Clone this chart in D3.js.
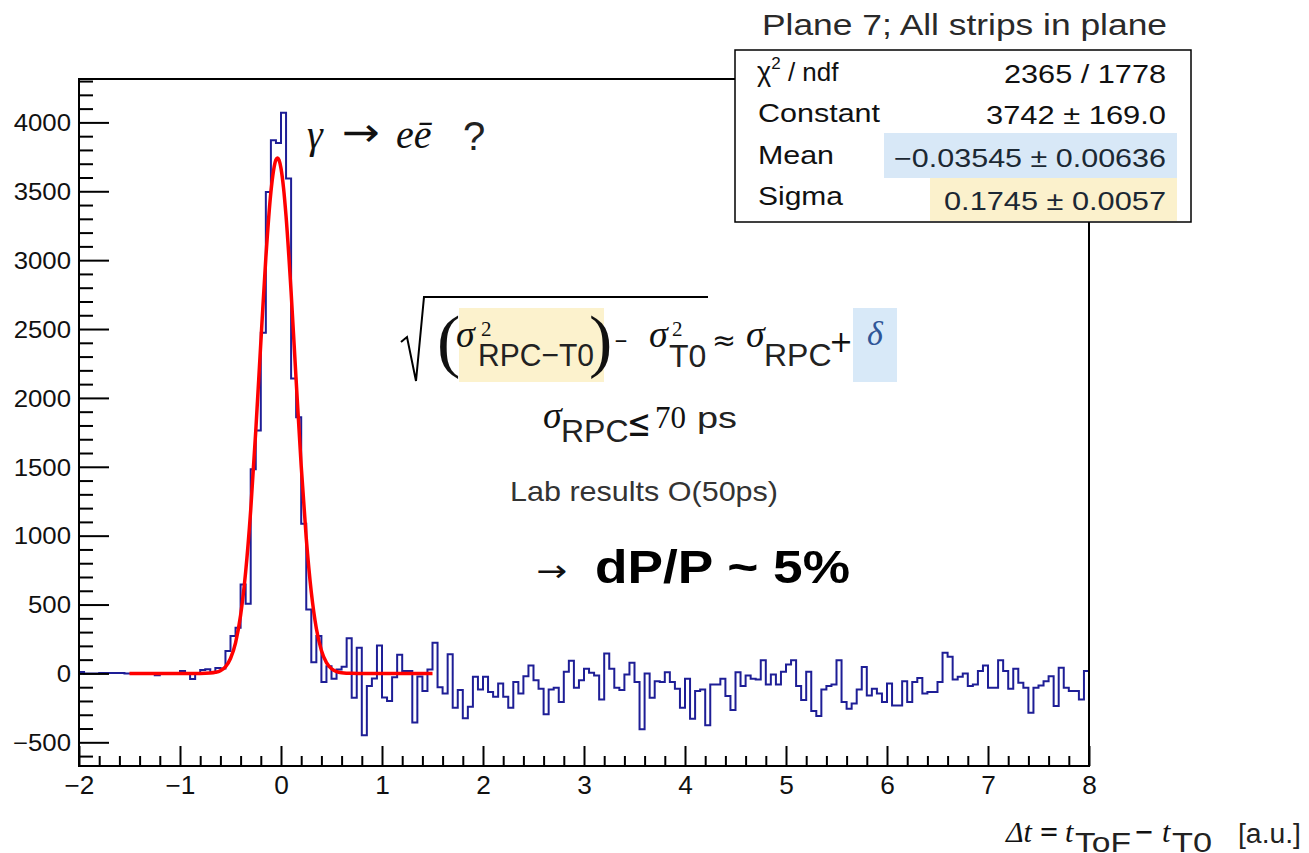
<!DOCTYPE html>
<html>
<head>
<meta charset="utf-8">
<script src="https://cdn.jsdelivr.net/npm/d3@7"></script>
<style>
  body { margin: 0; background: #fff; }
  text { font-family: "Liberation Sans", Arial, Helvetica, sans-serif; fill: #111; }
</style>
</head>
<body>
<div id="chart"></div>
<script>
// histogram binning: 200 bins of 0.05 from -2 to 8
let bin_start = -2;
let bin_width = 0.05;

// bin contents
// -2.00 .. -0.60
let counts_left = [10, 0, 0, 0, 3, 3, 3, 3, 3, 0,
  0, 0, 0, 0, 0, -14, 2, 3, 3, 3,
  17, 3, -40, 3, 24, 31, 5, 40, 36];
// -0.55 .. 0.25
let counts_peak = [162, 271, 331, 645, 505, 1483, 1763, 2473, 3495, 3870,
  3850, 4070, 3592, 2140, 1860, 1087, 464];
// 0.30 .. 0.95
let counts_0 = [82, 271, -63, 53, -39, 29, 48, 256, -176, 186, -449, -92, -36, 203];
// 1.00 .. 1.95
let counts_1 = [-174, -200, -27, 135, 17, 17, -357, -22, -128, 29,
  222, -100, -145, 140, -249, -121, -326, -242, -24, -116];
// 2.00 .. 2.95
let counts_2 = [-24, -135, -169, -73, -169, -249, -63, -145, -20, 58,
  -49, -111, -297, -116, -104, -208, 12, 92, -104, -49];
// 3.00 .. 3.95
let counts_3 = [34, 5, -15, -189, 145, 34, -104, -121, -7, 77,
  -63, -406, 0, -177, -56, -63, 9, -63, -111, -249];
// 4.00 .. 4.95
let counts_4 = [-39, -329, -128, -116, -377, -80, -80, -39, -164, -266,
  9, -92, -15, -39, -44, 96, -80, -7, -80, 12];
// 5.00 .. 5.95
let counts_5 = [65, 96, -92, -193, 12, -273, -309, -116, -92, -80,
  96, -208, -256, -218, -116, 46, -160, -111, -145, -208];
// 6.00 .. 6.95
let counts_6 = [-73, -232, -232, -56, -208, -63, -34, -145, -135, -135,
  -63, 150, 121, -44, -24, 0, -92, -80, 17, 58];
// 7.00 .. 7.95
let counts_7 = [-104, -104, 96, 17, -111, 34, -68, -104, -285, -104,
  -87, -56, -20, -237, 41, -104, -128, -128, -189, 17];

// gaussian fit curve
let fit_x = [-1.5, -1.0, -0.8, -0.7, -0.65, -0.6, -0.55, -0.5, -0.45, -0.4, -0.35, -0.3,
  -0.25, -0.2, -0.15, -0.1, -0.05, -0.035, -0.02, 0, 0.025, 0.05, 0.1, 0.15, 0.2,
  0.25, 0.3, 0.35, 0.4, 0.45, 0.5, 0.55, 0.6, 0.7, 0.8, 1.0, 1.5];
let fit_y = [0, 0, 0, 3, 8, 20, 48, 108, 222, 422, 737, 1186,
  1759, 2399, 3018, 3495, 3729, 3742, 3728, 3666, 3525, 3319, 2769, 2127, 1506,
  982, 590, 326, 166, 78, 34, 13, 5, 0.5, 0, 0, 0];

// axis ticks
let x_major = d3.range(-2, 9, 1);
let x_minor = d3.range(-2, 8.01, 0.2).filter(v => Math.abs(v - Math.round(v)) > 1e-6);
let y_major = d3.range(-500, 4001, 500);
let y_minor = d3.range(-600, 4301, 100).filter(v => v % 500 !== 0);

// stats box
let stat_names = ['Constant', 'Mean', 'Sigma'];
let stat_values = ['3742 \u00b1 169.0', '\u22120.03545 \u00b1 0.00636', '0.1745 \u00b1 0.0057'];
let chi2_text = '2365 / 1778';
let title_text = 'Plane 7; All strips in plane';

let svg_width = 1309;
let svg_height = 853;

let frame = {left: 79, right: 1089, top: 79, bottom: 766};

let svg = d3.select('#chart').append('svg')
  .attr('width', svg_width)
  .attr('height', svg_height);

let x = d3.scaleLinear().domain([-2, 8]).range([frame.left, frame.right]);
let y = d3.scaleLinear().domain([-672, 4315]).range([frame.bottom, frame.top]);

let serif = '"Liberation Serif", "Times New Roman", serif';
let symbol = '"DejaVu Sans", sans-serif';

// text helper
function label(px, py, str, size, opts = {}) {
  let t = svg.append('text')
    .attr('x', px)
    .attr('y', py)
    .attr('font-size', size)
    .text(str);
  if (opts.serif) t.style('font-family', serif);
  if (opts.sym) t.style('font-family', symbol);
  if (opts.italic) t.style('font-style', 'italic');
  if (opts.bold) t.style('font-weight', 'bold');
  if (opts.anchor) t.attr('text-anchor', opts.anchor);
  if (opts.fill) t.style('fill', opts.fill);
  if (opts.width) t.attr('textLength', opts.width).attr('lengthAdjust', 'spacingAndGlyphs');
  return t;
}

// widen text a little, the picture is stretched sideways
function stretch(sel, k) {
  sel.each(function() {
    let w = this.getComputedTextLength();
    d3.select(this).attr('textLength', w * k).attr('lengthAdjust', 'spacingAndGlyphs');
  });
}

// histogram
let counts = [].concat(counts_left, counts_peak, counts_0, counts_1, counts_2,
  counts_3, counts_4, counts_5, counts_6, counts_7);
let steps = counts.map((c, i) => [bin_start + i * bin_width, c]);
steps.push([8, counts[counts.length - 1]]);

svg.append('path')
  .datum(steps)
  .attr('fill', 'none')
  .attr('stroke', '#1e1e96')
  .attr('stroke-width', 2)
  .attr('d', d3.line().curve(d3.curveStepAfter).x(d => x(d[0])).y(d => y(d[1])));

// fit
let fit_pts = fit_x.map((v, i) => [v, fit_y[i]]);
svg.append('path')
  .datum(fit_pts)
  .attr('fill', 'none')
  .attr('stroke', '#ff0000')
  .attr('stroke-width', 3.5)
  .attr('stroke-linejoin', 'round')
  .attr('d', d3.line().curve(d3.curveMonotoneX).x(d => x(d[0])).y(d => y(d[1])));

// frame
svg.append('rect')
  .attr('x', frame.left)
  .attr('y', frame.top)
  .attr('width', frame.right - frame.left)
  .attr('height', frame.bottom - frame.top)
  .attr('fill', 'none')
  .attr('stroke', '#000')
  .attr('stroke-width', 2);

// x axis
let x_axis = svg.append('g')
  .attr('transform', `translate(0, ${frame.bottom})`)
  .call(d3.axisBottom(x).tickValues(x_major).tickSize(-20).tickPadding(0).tickFormat(d3.format('d')));
svg.append('g')
  .attr('transform', `translate(0, ${frame.bottom})`)
  .call(d3.axisBottom(x).tickValues(x_minor).tickSize(-10).tickFormat(''));

// y axis
let y_axis = svg.append('g')
  .attr('transform', `translate(${frame.left}, 0)`)
  .call(d3.axisLeft(y).tickValues(y_major).tickSize(-30).tickPadding(0).tickFormat(d3.format('d')));
svg.append('g')
  .attr('transform', `translate(${frame.left}, 0)`)
  .call(d3.axisLeft(y).tickValues(y_minor).tickSize(-14).tickFormat(''));

svg.selectAll('.domain').remove();
svg.selectAll('.tick line').attr('stroke', '#000').attr('stroke-width', 2);

x_axis.selectAll('text')
  .attr('y', 28)
  .attr('dy', 0)
  .attr('font-size', 25)
  .style('fill', '#111');
y_axis.selectAll('text')
  .attr('x', -8)
  .attr('dy', '0.36em')
  .attr('font-size', 23)
  .style('fill', '#111');
stretch(x_axis.selectAll('text'), 1.05);
stretch(y_axis.selectAll('text'), 1.12);

// stats box
svg.append('rect')
  .attr('x', 735).attr('y', 50)
  .attr('width', 456).attr('height', 172)
  .attr('fill', '#fff')
  .attr('stroke', '#000')
  .attr('stroke-width', 1.5);
svg.append('rect')
  .attr('x', 884).attr('y', 133).attr('width', 293).attr('height', 45)
  .attr('fill', '#d8e8f7');
svg.append('rect')
  .attr('x', 930).attr('y', 178).attr('width', 247).attr('height', 43)
  .attr('fill', '#fbf1cc');

label(762, 35, title_text, 29, {width: 405, fill: '#2a2a2a'});

let chi = svg.append('text').attr('x', 757).attr('y', 81).attr('font-size', 27);
chi.append('tspan').text('\u03c7');
chi.append('tspan').attr('font-size', 17).attr('dy', -12).text('2');
chi.append('tspan').attr('dy', 12).attr('font-size', 26).text(' / ndf');
label(1166, 83, chi2_text, 25, {anchor: 'end', width: 162});

let name_y = [122, 164, 205];
let value_y = [124, 167, 210];
let name_w = [122, 76, 85];
let value_w = [180, 272, 222];
stat_names.forEach((n, i) => {
  label(758, name_y[i], n, 25, {width: name_w[i]});
  label(1166, value_y[i], stat_values[i], 25, {anchor: 'end', width: value_w[i], fill: i > 0 ? '#1c2833' : '#111'});
});

// gamma -> e ebar ?
label(307, 148, '\u03b3', 40, {serif: true, italic: true});
label(342, 146, '\u2192', 40, {sym: true, width: 38});
label(396, 148, 'e\u0113', 40, {serif: true, italic: true});
label(463, 150, '?', 40, {fill: '#222'});

// formula highlights
svg.append('rect').attr('x', 459).attr('y', 308).attr('width', 145).attr('height', 74).attr('fill', '#fcf2cd');
svg.append('rect').attr('x', 853).attr('y', 308).attr('width', 44).attr('height', 74).attr('fill', '#d8e9f8');

// square root sign
svg.append('path')
  .attr('d', 'M401,342 L407,337 L416,381 L424,297 L708,297')
  .attr('fill', 'none')
  .attr('stroke', '#000')
  .attr('stroke-width', 2);

label(437, 364, '(', 70, {serif: true});
label(456, 347, '\u03c3', 38, {serif: true, italic: true});
label(481, 336, '2', 21, {serif: true});
label(478, 366, 'RPC\u2212T0', 32, {width: 116, fill: '#222'});
label(589, 364, ')', 70, {serif: true});
label(614, 348, '\u2212', 22, {sym: true, width: 14});
label(649, 347, '\u03c3', 38, {serif: true, italic: true});
label(672, 336, '2', 21, {serif: true});
label(669, 367, 'T0', 32, {fill: '#222'});
label(712, 350, '\u2248', 28, {sym: true, width: 24});
label(746, 347, '\u03c3', 38, {serif: true, italic: true});
label(764, 366, 'RPC', 32, {fill: '#222'});
label(829, 352, '+', 30, {sym: true, width: 24});
label(867, 345, '\u03b4', 34, {serif: true, italic: true, fill: '#2f5597'});

// sigma_RPC <= 70 ps
label(543, 428, '\u03c3', 38, {serif: true, italic: true});
label(561, 442, 'RPC', 32, {fill: '#222'});
label(627, 436, '\u2264', 38, {sym: true, width: 24});
label(655, 428, '70', 31, {serif: true});
label(697, 428, 'ps', 30, {width: 40, fill: '#222'});

label(510, 501, 'Lab results O(50ps)', 28, {width: 268, fill: '#333'});

label(536, 581, '\u2192', 30, {sym: true, width: 31});
label(595, 583, 'dP/P ~ 5%', 47, {bold: true, width: 255, fill: '#000'});

// x axis title
label(1006, 842, '\u0394t', 30, {serif: true, italic: true});
label(1039, 841, '=', 28, {sym: true, width: 20});
label(1065, 842, 't', 30, {serif: true, italic: true});
label(1075, 852, 'ToF', 27, {width: 56, fill: '#222'});
label(1134, 841, '\u2212', 28, {sym: true, width: 20});
label(1162, 842, 't', 30, {serif: true, italic: true});
label(1172, 852, 'T0', 27, {width: 40, fill: '#222'});
label(1238, 843, '[a.u.]', 27, {width: 63, fill: '#222'});
</script>
</body>
</html>
